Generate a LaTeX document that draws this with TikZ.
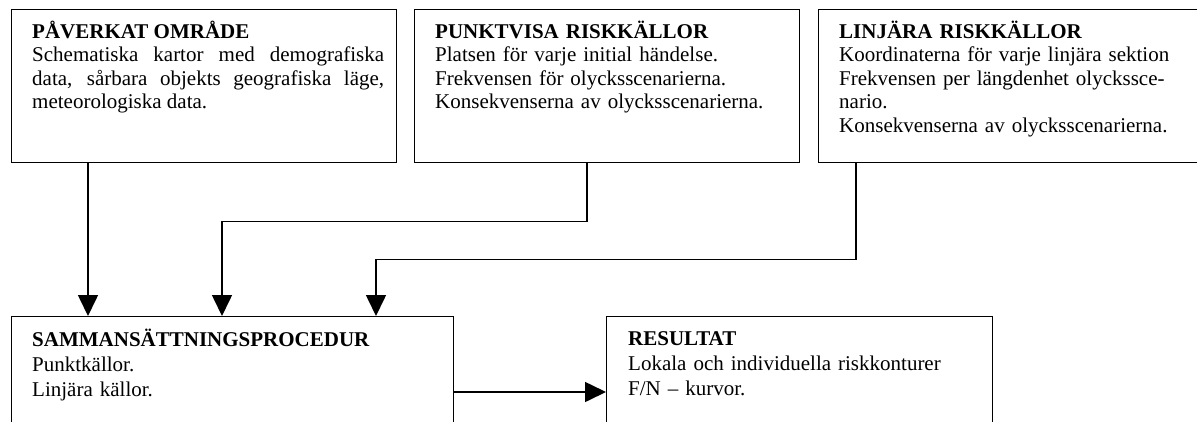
\documentclass[tikz,border=0pt]{standalone}
\usepackage{fontspec}
\setmainfont{Liberation Serif}
\usetikzlibrary{arrows.meta,calc}

\begin{document}
\begin{tikzpicture}[x=1pt,y=-1pt,
  box/.style={draw=black,line width=1.3pt,rectangle,inner sep=0pt,anchor=north west},
  txt/.style={inner sep=0pt,anchor=base west,text width=360pt,align=left,
    font=\fontsize{21}{23.5}\selectfont},
  txtlow/.style={txt,font=\fontsize{21}{25}\selectfont},
  conn/.style={draw=black,line width=1.6pt,-{Triangle[length=21pt,width=20pt]}}]

  % page area, white, with everything outside cut off
  \fill[white] (0,0) rectangle (1197,421);
  \path[use as bounding box,clip] (0,0) rectangle (1197,421);

  % input boxes along the top
  \node[box,minimum width=385pt,minimum height=153pt] (pav) at (11,9) {};
  \node[box,minimum width=385pt,minimum height=153pt] (pun) at (414,9) {};
  \node[box,minimum width=420pt,minimum height=153pt] (lin) at (818,9) {};

  % procedure and result boxes along the bottom
  \node[box,minimum width=442pt,minimum height=160pt] (sam) at (11,316) {};
  \node[box,minimum width=386pt,minimum height=160pt] (res) at (606,316) {};

  % box texts
  \node[txt,text width=352pt,align=justify] (pavtxt) at ($(pav.north west)+(21,29)$)
    {\textbf{PÅVERKAT OMRÅDE}\par
     Schematiska kartor med demografiska\linebreak
     data, sårbara objekts geografiska läge,\linebreak
     meteorologiska data.};
  \node[txt] (puntxt) at ($(pun.north west)+(21,29)$)
    {\textbf{PUNKTVISA RISKKÄLLOR}\\
     Platsen för varje initial händelse.\\
     Frekvensen för olycksscenarierna.\\
     Konsekvenserna av olycksscenarierna.};
  \node[txt] (lintxt) at ($(lin.north west)+(21,29)$)
    {\textbf{LINJÄRA RISKKÄLLOR}\\
     Koordinaterna för varje linjära sektion\\
     Frekvensen per längdenhet olyckssce-\\
     nario.\\
     Konsekvenserna av olycksscenarierna.};
  \node[txtlow,text width=410pt] (samtxt) at ($(sam.north west)+(21,30)$)
    {\textbf{SAMMANSÄTTNINGSPROCEDUR}\\
     Punktkällor.\\
     Linjära källor.};
  \node[txtlow] (restxt) at ($(res.north west)+(22,29)$)
    {\textbf{RESULTAT}\\
     Lokala och individuella riskkonturer\\
     F/N – kurvor.};

  % connector end points on the box edges
  \coordinate (a1) at ($(pav.south west)+(77,0)$);
  \coordinate (a2) at ($(pun.south west)+(173,0)$);
  \coordinate (a2e) at ($(sam.north west)+(211,0)$);
  \coordinate (a3) at ($(lin.south west)+(38,0)$);
  \coordinate (a3e) at ($(sam.north west)+(365,0)$);
  \coordinate (a4) at ($(sam.north east)+(0,76)$);

  % connectors
  \draw[conn] (a1) -- (a1 |- sam.north);
  \draw[conn] (a2) -- ++(0,58) -| (a2e);
  \draw[conn] (a3) -- ++(0,96) -| (a3e);
  \draw[conn] (a4) -- (a4 -| res.west);
\end{tikzpicture}
\end{document}
